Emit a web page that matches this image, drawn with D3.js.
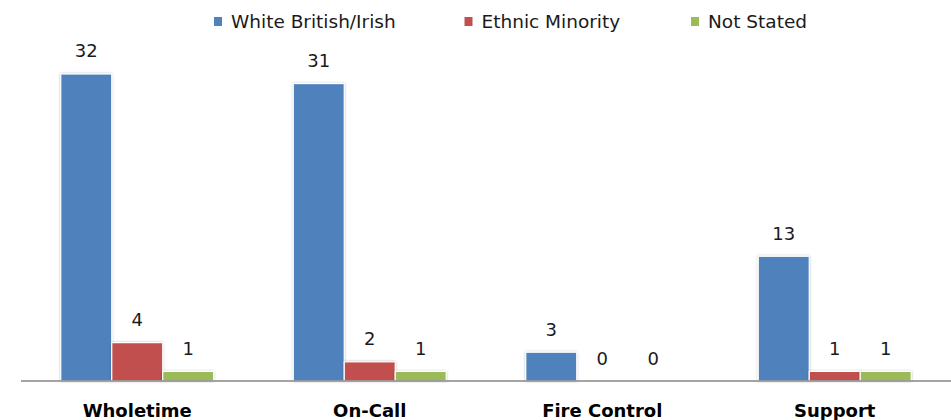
<!DOCTYPE html>
<html>
<head>
<meta charset="utf-8">
<script src="https://cdn.jsdelivr.net/npm/d3@7/dist/d3.min.js"></script>
<style>
  html, body { margin: 0; padding: 0; background: #fff; }
  svg { display: block; font-family: "DejaVu Sans", sans-serif; }
</style>
</head>
<body>
<svg id="chart" width="951" height="420"></svg>
<script>
// Staff groups and headcount by ethnicity
const categories = ["Wholetime", "On-Call", "Fire Control", "Support"];
const seriesNames = ["White British/Irish", "Ethnic Minority", "Not Stated"];
const whiteBritishIrish = [32, 31, 3, 13];
const ethnicMinority = [4, 2, 0, 1];
const notStated = [1, 1, 0, 1];
const seriesColors = ["#4F81BD", "#C0504D", "#9BBB59"];

const seriesValues = [whiteBritishIrish, ethnicMinority, notStated];

const svg = d3.select("#chart");
const left = 21, right = 951, base = 381;

// Soft shadow around each bar
const defs = svg.append("defs");
const f = defs.append("filter").attr("id", "barShadow")
  .attr("x", "-20%").attr("y", "-20%").attr("width", "140%").attr("height", "140%");
f.append("feDropShadow").attr("dx", 0).attr("dy", 0)
  .attr("stdDeviation", 1.2).attr("flood-color", "#000").attr("flood-opacity", 0.28);

const x0 = d3.scaleBand().domain(categories).range([left, right])
  .paddingInner(0.342).paddingOuter(0.171);
const x1 = d3.scaleBand().domain(seriesNames).range([0, x0.bandwidth()]);
const y = d3.scaleLinear().domain([0, 35]).range([base, 45.2]);

const rows = categories.map((c, i) => ({
  category: c,
  values: seriesNames.map((s, k) => ({ series: s, k, value: seriesValues[k][i] }))
}));

const groups = svg.append("g").selectAll("g").data(rows).join("g")
  .attr("transform", d => `translate(${x0(d.category)},0)`);

groups.selectAll("rect").data(d => d.values.filter(v => v.value > 0)).join("rect")
  .attr("x", v => x1(v.series))
  .attr("y", v => y(v.value))
  .attr("width", x1.bandwidth())
  .attr("height", v => y(0) - y(v.value))
  .attr("fill", v => seriesColors[v.k])
  .attr("stroke", "#fff")
  .attr("stroke-width", 1.2)
  .attr("filter", "url(#barShadow)");

groups.selectAll("text.val").data(d => d.values).join("text")
  .attr("class", "val")
  .attr("x", v => x1(v.series) + x1.bandwidth() / 2)
  .attr("y", v => y(v.value) - 16.5)
  .attr("text-anchor", "middle")
  .attr("font-size", 18)
  .attr("fill", "#1a1a1a")
  .text(v => v.value);

// Category axis
const xAxis = svg.append("g").attr("transform", `translate(0,${base})`)
  .call(d3.axisBottom(x0).tickSize(0).tickPadding(23));
xAxis.select(".domain").attr("stroke", "#868686").attr("stroke-width", 1.5)
  .attr("d", `M${left},0H${right}`);
xAxis.selectAll("text")
  .attr("font-family", "DejaVu Sans, sans-serif")
  .attr("font-size", 18).attr("font-weight", "bold").attr("fill", "#000");

// Legend
const legendX = [214, 464.5, 691];
const legend = svg.append("g").selectAll("g").data(seriesNames).join("g")
  .attr("transform", (d, i) => `translate(${legendX[i]},0)`);
legend.append("rect").attr("x", 0).attr("y", 17).attr("width", 8).attr("height", 9)
  .attr("fill", (d, i) => seriesColors[i]);
legend.append("text").attr("x", 17).attr("y", 28)
  .attr("font-size", 18.5).attr("fill", "#1a1a1a").text(d => d);
</script>
</body>
</html>
